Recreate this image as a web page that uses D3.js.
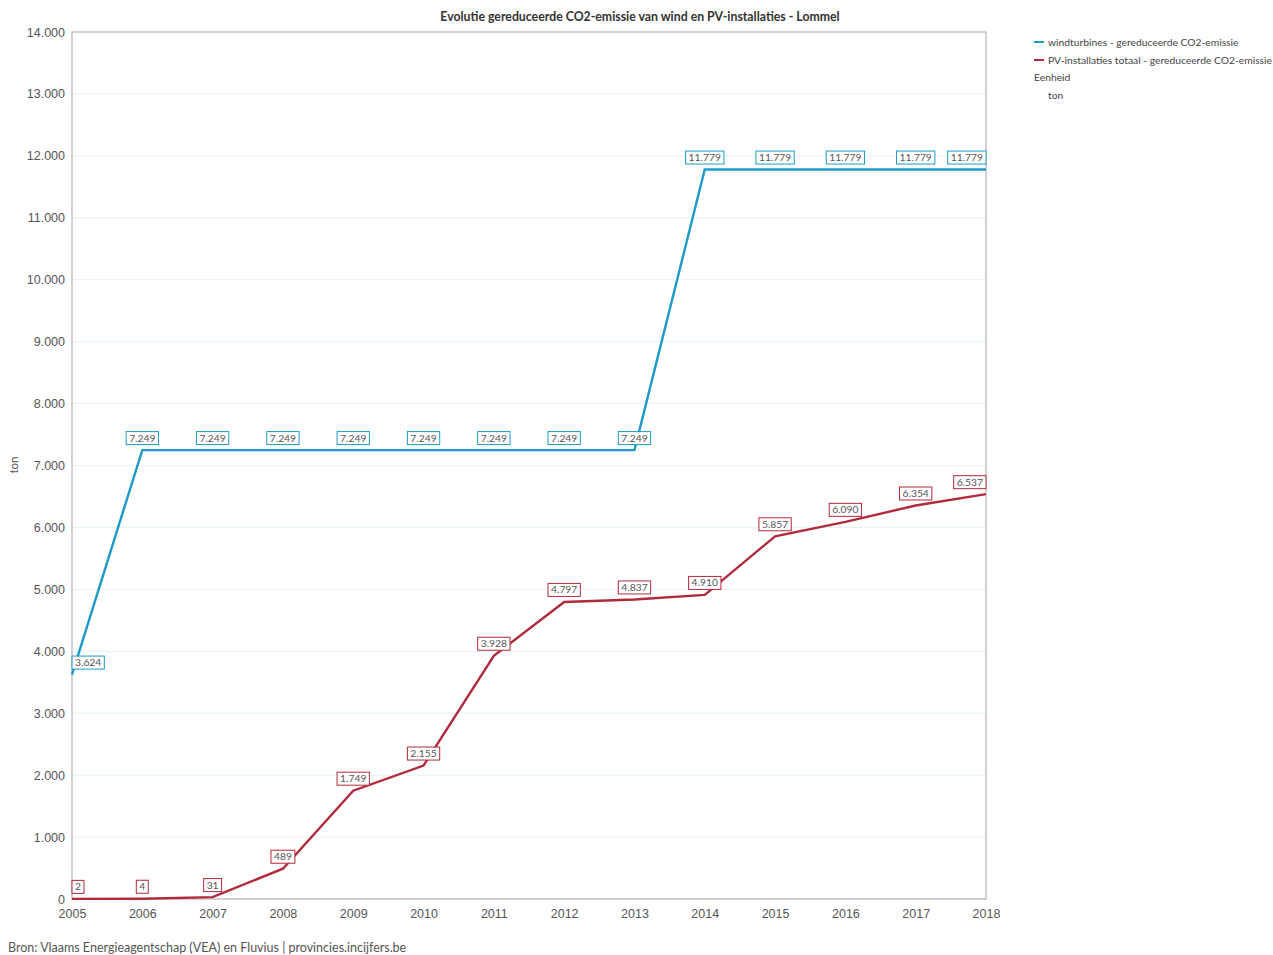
<!DOCTYPE html>
<html>
<head>
<meta charset="utf-8">
<script src="https://cdn.jsdelivr.net/npm/d3@7"></script>
<style>
  html, body { margin: 0; padding: 0; background: #fff; }
  svg { display: block; font-family: Lato, "Noto Sans", sans-serif; }
</style>
</head>
<body>
<svg id="chart" width="1273" height="955"></svg>
<script>
// Jaren en gereduceerde CO2-emissie (ton)
const years = [2005, 2006, 2007, 2008, 2009, 2010, 2011, 2012, 2013, 2014, 2015, 2016, 2017, 2018];
const windValues = [3624, 7249, 7249, 7249, 7249, 7249, 7249, 7249, 7249, 11779, 11779, 11779, 11779, 11779];
const pvValues = [2, 4, 31, 489, 1749, 2155, 3928, 4797, 4837, 4910, 5857, 6090, 6354, 6537];
const yTicks = [0, 1000, 2000, 3000, 4000, 5000, 6000, 7000, 8000, 9000, 10000, 11000, 12000, 13000, 14000];
const seriesNames = ["windturbines - gereduceerde CO2-emissie", "PV-installaties totaal - gereduceerde CO2-emissie"];
const seriesColors = ["#1c9ac8", "#b02a3c"];

const svg = d3.select("#chart");
const margin = { left: 72, right: 1273 - 986, top: 32, bottom: 955 - 899 };
const W = 1273, H = 955;

const x = d3.scaleLinear().domain([2005, 2018]).range([margin.left, W - margin.right]);
const y = d3.scaleLinear().domain([0, 14000]).range([H - margin.bottom, margin.top]);

const fmt = v => d3.format(",")(v).replace(/,/g, ".");

// gridlijnen
svg.append("g").selectAll("line").data(yTicks.slice(1, -1)).join("line")
  .attr("x1", x(2005)).attr("x2", x(2018))
  .attr("y1", d => y(d)).attr("y2", d => y(d))
  .attr("stroke", "#e4f3f5").attr("stroke-width", 1);

// kader rond het plotgebied
svg.append("rect")
  .attr("x", x(2005)).attr("y", y(14000))
  .attr("width", x(2018) - x(2005)).attr("height", y(0) - y(14000))
  .attr("fill", "none").attr("stroke", "#b4b4b4").attr("stroke-width", 1.2);

// y-as
const yAxis = d3.axisLeft(y).tickValues(yTicks).tickFormat(fmt).tickSize(0).tickPadding(7);
const gy = svg.append("g").attr("transform", `translate(${x(2005)},0)`).call(yAxis);
gy.select(".domain").remove();
gy.selectAll("text").attr("font-size", 12.5).attr("fill", "#555");

// x-as
const xAxis = d3.axisBottom(x).tickValues(years).tickFormat(d3.format("d")).tickSize(0).tickPadding(10);
const gx = svg.append("g").attr("transform", `translate(0,${y(0)})`).call(xAxis);
gx.select(".domain").remove();
gx.selectAll("text").attr("font-size", 12.5).attr("fill", "#555");

// titel
svg.append("text").attr("x", 640).attr("y", 21).attr("text-anchor", "middle")
  .attr("font-size", 12.3).attr("font-weight", "bold").attr("fill", "#333")
  .text("Evolutie gereduceerde CO2-emissie van wind en PV-installaties - Lommel");

// y-as titel
svg.append("text").attr("transform", "translate(18,465) rotate(-90)")
  .attr("text-anchor", "middle").attr("font-size", 11.5).attr("fill", "#555").text("ton");

// bron
svg.append("text").attr("x", 8).attr("y", 952).attr("font-size", 12.5).attr("fill", "#555")
  .text("Bron: Vlaams Energieagentschap (VEA) en Fluvius | provincies.incijfers.be");

// lijnen
const series = [windValues, pvValues];
const line = d3.line().x((d, i) => x(years[i])).y(d => y(d));
series.forEach((vals, s) => {
  svg.append("path").datum(vals).attr("d", line)
    .attr("fill", "none").attr("stroke", seriesColors[s]).attr("stroke-width", 2.4)
    .attr("stroke-linejoin", "miter");
});

// waardelabels, binnen het plotgebied gehouden
const xMin = x(2005), xMax = x(2018);
series.forEach((vals, s) => {
  const g = svg.append("g");
  vals.forEach((v, i) => {
    const t = g.append("text").attr("y", y(v) - 12 + 3.5).attr("text-anchor", "middle")
      .attr("font-size", 10.3).attr("fill", "#555").text(fmt(v));
    const w = t.node().getComputedTextLength() + 6;
    let cx = x(years[i]);
    cx = Math.max(xMin + w / 2, Math.min(xMax - w / 2, cx));
    t.attr("x", cx);
    g.insert("rect", () => t.node())
      .attr("x", cx - w / 2).attr("y", y(v) - 12 - 6.5).attr("width", w).attr("height", 13)
      .attr("fill", "#fff").attr("stroke", seriesColors[s]).attr("stroke-width", 1);
  });
});

// legenda
const lg = svg.append("g").attr("transform", "translate(1034,0)");
seriesNames.forEach((n, i) => {
  const yy = 42 + i * 18;
  lg.append("line").attr("x1", 0).attr("x2", 10).attr("y1", yy).attr("y2", yy)
    .attr("stroke", seriesColors[i]).attr("stroke-width", 2);
  lg.append("text").attr("x", 14).attr("y", yy + 3.5).attr("font-size", 10.3).attr("fill", "#444").text(n);
});
lg.append("text").attr("x", 0).attr("y", 81).attr("font-size", 10.3).attr("fill", "#444").text("Eenheid");
lg.append("text").attr("x", 14).attr("y", 99).attr("font-size", 10.3).attr("fill", "#444").text("ton");
</script>
</body>
</html>
